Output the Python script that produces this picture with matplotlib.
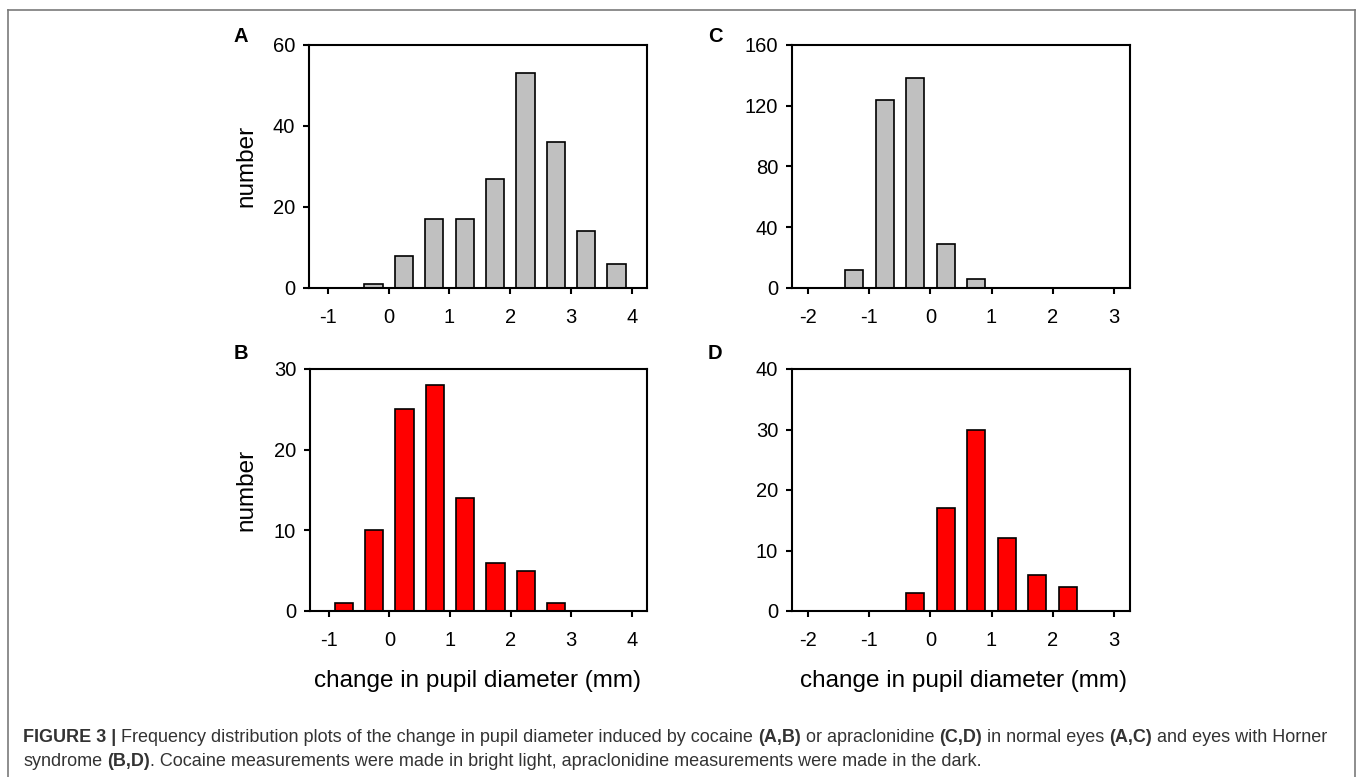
import matplotlib
matplotlib.use("Agg")
import matplotlib.pyplot as plt
from matplotlib.lines import Line2D

plt.rcParams['font.family'] = ['Liberation Sans', 'DejaVu Sans']
plt.rcParams['axes.unicode_minus'] = False

# bin centres (mm) and counts
bins_ab = [-0.75, -0.25, 0.25, 0.75, 1.25, 1.75, 2.25, 2.75, 3.25, 3.75]
counts_a = [0, 1, 8, 17, 17, 27, 53, 36, 14, 6]
counts_b = [1, 10, 25, 28, 14, 6, 5, 1, 0, 0]

bins_cd = [-1.75, -1.25, -0.75, -0.25, 0.25, 0.75, 1.25, 1.75, 2.25, 2.75]
counts_c = [0, 12, 124, 138, 29, 6, 0, 0, 0, 0]
counts_d = [0, 0, 0, 3, 17, 30, 12, 6, 4, 0]

xticks_ab = [-1, 0, 1, 2, 3, 4]
xticks_cd = [-2, -1, 0, 1, 2, 3]
yticks_a = [0, 20, 40, 60]
yticks_b = [0, 10, 20, 30]
yticks_c = [0, 40, 80, 120, 160]
yticks_d = [0, 10, 20, 30, 40]

GREY = '#c0c0c0'
RED = '#ff0000'
W, H = 1357, 777

fig = plt.figure(figsize=(W / 100, H / 100), dpi=100)


def px_axes(left, top, right, bottom):
    return fig.add_axes([left / W, 1 - bottom / H, (right - left) / W, (bottom - top) / H])


def panel(ax, x, y, color, xlim, xticks, yticks):
    ax.bar(x, y, width=0.3, color=color, edgecolor='black', linewidth=1.2, zorder=2)
    ax.set_xlim(*xlim)
    ax.set_ylim(yticks[0], yticks[-1])
    ax.set_xticks(xticks)
    ax.set_yticks(yticks)
    ax.tick_params(direction='out', length=4, width=1.5, labelsize=14.5)
    ax.tick_params(axis='x', pad=10.5)
    ax.tick_params(axis='y', pad=6)
    for s in ax.spines.values():
        s.set_linewidth(1.5)


axA = px_axes(309, 45, 647, 288)
axC = px_axes(792, 45, 1130, 288)
axB = px_axes(310, 369, 647, 611)
axD = px_axes(792, 369, 1130, 611)

panel(axA, bins_ab, counts_a, GREY, (-1.31, 4.25), xticks_ab, yticks_a)
panel(axB, bins_ab, counts_b, RED, (-1.31, 4.25), xticks_ab, yticks_b)
panel(axC, bins_cd, counts_c, GREY, (-2.27, 3.27), xticks_cd, yticks_c)
panel(axD, bins_cd, counts_d, RED, (-2.27, 3.27), xticks_cd, yticks_d)


def ftext(x, y, s, **kw):
    return fig.text(x / W, 1 - y / H, s, **kw)


# panel letters
for lx, ly, s in [(241, 36, 'A'), (241, 353, 'B'), (715, 36, 'C'), (715, 353, 'D')]:
    ftext(lx, ly, s, fontsize=14.5, fontweight='bold', ha='center', va='center')

# axis labels
ftext(246, 166, 'number', fontsize=17.5, rotation=90, ha='center', va='center')
ftext(246, 490, 'number', fontsize=17.5, rotation=90, ha='center', va='center')
ftext(477, 681, 'change in pupil diameter (mm)', fontsize=17.5, ha='center', va='center')
ftext(964, 681, 'change in pupil diameter (mm)', fontsize=17.5, ha='center', va='center')

# outer frame (open at the bottom)
fc = '#7a7a7a'
fig.add_artist(Line2D([7.5 / W, 7.5 / W], [0, 1 - 9.5 / H], transform=fig.transFigure, color=fc, lw=1.2))
fig.add_artist(Line2D([7.5 / W, 1355 / W], [1 - 9.5 / H, 1 - 9.5 / H], transform=fig.transFigure, color=fc, lw=1.2))
fig.add_artist(Line2D([1355 / W, 1355 / W], [0, 1 - 9.5 / H], transform=fig.transFigure, color=fc, lw=1.2))

# caption with bold runs
renderer = fig.canvas.get_renderer()
CAP_SIZE = 13
CAP_COLOR = '#333333'


def text_width(s, weight):
    t = fig.text(0, 0, s, fontsize=CAP_SIZE, fontweight=weight)
    w = t.get_window_extent(renderer).width
    t.remove()
    return w


space_w = text_width('x x', 'normal') - text_width('xx', 'normal')


def caption_line(x, y, runs):
    for s, bold in runs:
        weight = 'bold' if bold else 'normal'
        lead = len(s) - len(s.lstrip(' '))
        trail = len(s) - len(s.rstrip(' '))
        x += lead * space_w
        core = s.strip(' ')
        t = fig.text(x / W, 1 - y / H, core, fontsize=CAP_SIZE, fontweight=weight,
                     color=CAP_COLOR, ha='left', va='baseline')
        x += t.get_window_extent(renderer).width + trail * space_w


caption_line(23, 741.5, [
    ('FIGURE 3 |', True),
    (' Frequency distribution plots of the change in pupil diameter induced by cocaine ', False),
    ('(A,B)', True),
    (' or apraclonidine ', False),
    ('(C,D)', True),
    (' in normal eyes ', False),
    ('(A,C)', True),
    (' and eyes with Horner', False),
])
caption_line(23, 765.5, [
    ('syndrome ', False),
    ('(B,D)', True),
    ('. Cocaine measurements were made in bright light, apraclonidine measurements were made in the dark.', False),
])

fig.savefig('out.png', dpi=100)
